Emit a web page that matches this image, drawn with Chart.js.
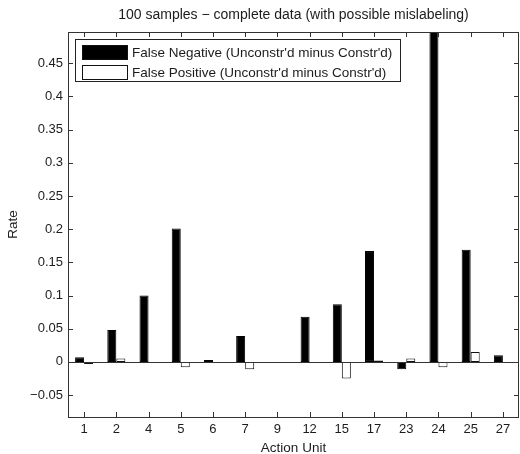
<!DOCTYPE html>
<html>
<head>
<meta charset="utf-8">
<script src="https://cdn.jsdelivr.net/npm/chart.js@4/dist/chart.umd.min.js"></script>
<style>
  html, body { margin: 0; padding: 0; background: #fff; }
  #wrap { width: 520px; height: 454px; }
</style>
</head>
<body>
<div id="wrap"><canvas id="chart" width="520" height="454"></canvas></div>
<script>
const actionUnits = ['1', '2', '4', '5', '6', '7', '9', '12', '15', '17', '23', '24', '25', '27'];
const falseNegative = [0.007, 0.048, 0.100, 0.201, 0.003, 0.039, 0, 0.068, 0.087, 0.167, -0.011, 0.52, 0.169, 0.010];
const falsePositive = [-0.003, 0.005, 0, -0.008, 0, -0.011, 0, 0, -0.025, 0.002, 0.005, -0.008, 0.015, 0];
const yTicks = [-0.05, 0, 0.05, 0.1, 0.15, 0.2, 0.25, 0.3, 0.35, 0.4, 0.45];

const FONT = '"Liberation Sans", Arial, Helvetica, sans-serif';
const INK = '#1c1c1c';

// matlab-ish frame: box on all sides, ticks pointing inward, baseline at zero, legend inside
const matlabBox = {
  id: 'matlabBox',
  afterDatasetsDraw(chart) {
    const { ctx, chartArea: a, scales } = chart;
    const x = scales.x, y = scales.y;
    ctx.save();
    ctx.strokeStyle = '#333';
    ctx.lineWidth = 1;

    // zero baseline
    const y0 = Math.round(y.getPixelForValue(0)) + 0.5;
    ctx.beginPath();
    ctx.moveTo(a.left, y0);
    ctx.lineTo(a.right, y0);
    ctx.stroke();

    // frame
    ctx.strokeRect(Math.round(a.left) + 0.5, Math.round(a.top) + 0.5,
      Math.round(a.right - a.left) - 1, Math.round(a.bottom - a.top));

    // inward ticks
    const len = 5;
    ctx.beginPath();
    y.ticks.forEach((t, i) => {
      const py = Math.round(y.getPixelForTick(i)) + 0.5;
      ctx.moveTo(a.left, py); ctx.lineTo(a.left + len, py);
      ctx.moveTo(a.right, py); ctx.lineTo(a.right - len, py);
    });
    x.ticks.forEach((t, i) => {
      const px = Math.round(x.getPixelForTick(i)) + 0.5;
      ctx.moveTo(px, a.bottom); ctx.lineTo(px, a.bottom - len);
      ctx.moveTo(px, a.top); ctx.lineTo(px, a.top + len);
    });
    ctx.stroke();

    // legend box
    const lx = 75.5, ly = 39.5, lw = 325, lh = 42;
    ctx.fillStyle = '#fff';
    ctx.fillRect(lx, ly, lw, lh);
    ctx.strokeStyle = '#222';
    ctx.strokeRect(lx, ly, lw, lh);
    ctx.font = '13.5px ' + FONT;
    ctx.textBaseline = 'middle';
    chart.data.datasets.forEach((ds, i) => {
      const sy = 45.5 + i * 20;
      ctx.fillStyle = ds.backgroundColor;
      ctx.fillRect(82.5, sy, 45, 14);
      ctx.strokeStyle = '#111';
      ctx.strokeRect(82.5, sy, 45, 14);
      ctx.fillStyle = INK;
      ctx.fillText(ds.label, 132, sy + 7.5);
    });
    ctx.restore();
  }
};

new Chart(document.getElementById('chart'), {
  type: 'bar',
  data: {
    labels: actionUnits,
    datasets: [
      {
        label: "False Negative (Unconstr'd minus Constr'd)",
        data: falseNegative,
        backgroundColor: '#000',
        borderColor: '#000',
        borderWidth: 1,
        borderSkipped: false,
      },
      {
        label: "False Positive (Unconstr'd minus Constr'd)",
        data: falsePositive,
        backgroundColor: '#fff',
        borderColor: '#111',
        borderWidth: 1,
        borderSkipped: false,
      }
    ]
  },
  options: {
    responsive: false,
    animation: false,
    layout: { padding: { left: 0, right: 1, top: 0, bottom: 0 } },
    categoryPercentage: 0.56,
    barPercentage: 1.0,
    scales: {
      x: {
        grid: { display: false, drawTicks: false },
        border: { display: false },
        ticks: { color: INK, font: { family: FONT, size: 13 }, padding: 5, maxRotation: 0, autoSkip: false },
        title: { display: true, text: 'Action Unit', color: INK, font: { family: FONT, size: 13.5 }, padding: { top: 0, bottom: -2 } },
        afterFit(s) { s.height = 37; }
      },
      y: {
        min: -0.083,
        max: 0.497,
        grid: { display: false, drawTicks: false },
        border: { display: false },
        afterBuildTicks(s) { s.ticks = yTicks.map(v => ({ value: v })); },
        ticks: {
          color: INK,
          font: { family: FONT, size: 13 },
          padding: 5,
          callback: v => String(+v.toFixed(2)).replace('-', '\u2212')
        },
        title: { display: true, text: 'Rate', color: INK, font: { family: FONT, size: 13.5 }, padding: { top: 5, bottom: 0 } },
        afterFit(s) { s.width = 68; }
      }
    },
    plugins: {
      legend: { display: false },
      tooltip: { enabled: false },
      title: {
        display: true,
        fullSize: false,
        text: '100 samples \u2212 complete data (with possible mislabeling)',
        color: INK,
        font: { family: FONT, size: 14, weight: 'normal' },
        padding: { top: 7, bottom: 8.2 }
      }
    }
  },
  plugins: [matlabBox]
});
</script>
</body>
</html>
